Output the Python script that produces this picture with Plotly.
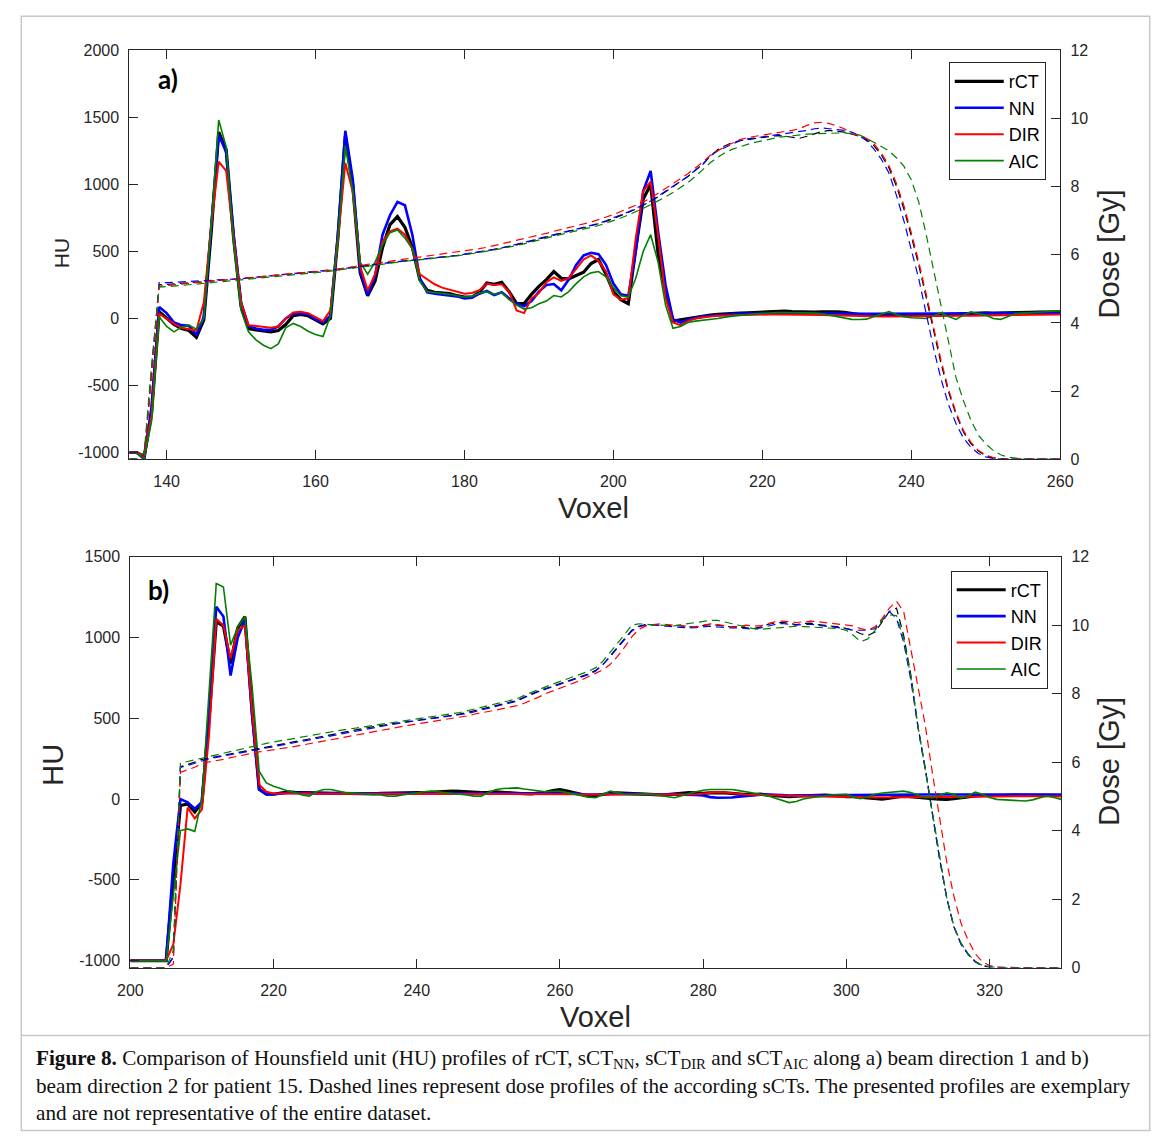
import plotly.graph_objects as go

W, H = 1171, 1147

# ---------------- Panel a) data (voxel 135..260) ----------------
voxel_a = list(range(135, 261))

hu_a_rct = [
    -1000, -1000, -1030, -700, 50, 5, -45, -75, -90, -140,
    -10, 650, 1390, 1260, 600, 90, -75, -85, -90, -100,
    -90, -45, 20, 30, 20, -10, -40, 0, 600, 1360,
    990, 340, 170, 280, 530, 700, 760, 680, 530, 290,
    210, 195, 190, 185, 170, 160, 160, 195, 265, 255,
    270, 200, 110, 110, 180, 240, 290, 350, 300, 295,
    320, 345, 410, 440, 330, 200, 140, 110, 520, 890,
    1000, 480, 200, -20, -10, 0, 10, 20, 25, 30,
    35, 40, 40, 42, 45, 48, 50, 55, 55, 52,
    50, 48, 48, 50, 52, 50, 45, 35, 28, 25,
    25, 25, 26, 25, 25, 25, 24, 25, 26, 28,
    30, 33, 36, 40, 42, 42, 40, 40, 42, 45,
    45, 45, 47, 48, 50, 50]
hu_a_nn = [
    -1000, -1000, -1050, -650, 85, 40, -30, -50, -55, -120,
    10, 700, 1370, 1240, 620, 120, -55, -75, -85, -85,
    -60, 0, 35, 40, 30, -5, -30, 20, 620, 1400,
    1040, 360, 175, 320, 625, 770, 870, 845, 625, 300,
    195, 185, 180, 175, 165, 150, 155, 185, 205, 175,
    195, 150, 110, 90, 130, 200, 250, 257, 210, 290,
    400, 470, 490, 480, 400, 260, 180, 170, 500, 950,
    1100, 650, 250, -5, -30, -10, 5, 15, 20, 25,
    30, 32, 35, 36, 37, 38, 38, 38, 38, 38,
    38, 38, 37, 37, 36, 36, 35, 35, 35, 35,
    35, 35, 35, 35, 35, 35, 35, 35, 35, 35,
    35, 35, 36, 36, 37, 37, 37, 38, 38, 38,
    38, 39, 39, 40, 40, 40]
hu_a_dir = [
    -1000, -1000, -1020, -720, 37, 0, -40, -70, -80, -90,
    120, 700, 1170, 1100, 600, 120, -50, -55, -60, -70,
    -60, 0, 45, 50, 40, 10, -20, 60, 580, 1160,
    945, 390, 210, 330, 575, 650, 670, 625, 520, 330,
    295, 255, 230, 215, 200, 185, 190, 210, 260, 250,
    255, 200, 60, 40, 150, 190, 270, 306, 280, 300,
    370, 440, 470, 430, 350, 180, 140, 150, 600, 950,
    1020, 620, 150, -30, -50, -20, 0, 10, 15, 20,
    22, 25, 27, 28, 30, 30, 30, 30, 30, 30,
    28, 28, 26, 25, 24, 22, 20, 18, 16, 15,
    15, 15, 15, 15, 15, 16, 16, 17, 18, 18,
    19, 20, 20, 21, 22, 22, 23, 24, 25, 25,
    26, 27, 28, 28, 29, 30]
hu_a_aic = [
    -1000, -1000, -1050, -760, 12, -60, -100, -65, -50, -80,
    0, 700, 1480, 1280, 560, 60, -100, -160, -200, -225,
    -190, -70, -37, -60, -95, -120, -135, 20, 600, 1290,
    950, 420, 330, 420, 550, 640, 660, 600, 520, 280,
    200, 195, 190, 180, 170, 160, 165, 190, 200, 180,
    195, 140, 100, 70, 80, 110, 130, 171, 160, 200,
    260, 310, 340, 350, 310, 230, 170, 160, 300, 500,
    625, 420, 100, -73, -60, -30, -20, -15, -10, 0,
    10, 20, 25, 30, 35, 40, 42, 45, 45, 45,
    45, 42, 40, 35, 25, 10, 0, -7, -8, -5,
    15, 35, 51, 30, 13, 5, 0, 0, 20, 42,
    15, -7, 25, 49, 35, 25, 0, -7, 15, 37,
    40, 42, 45, 50, 55, 56]

dose_a_rct = [
    0, 0, 0.1, 2.5, 5.12, 5.13, 5.15, 5.17, 5.19, 5.2,
    5.21, 5.23, 5.25, 5.26, 5.28, 5.3, 5.32, 5.34, 5.35, 5.37,
    5.39, 5.41, 5.43, 5.45, 5.47, 5.49, 5.51, 5.53, 5.56, 5.6,
    5.63, 5.66, 5.69, 5.72, 5.75, 5.77, 5.8, 5.82, 5.84, 5.86,
    5.88, 5.9, 5.92, 5.95, 5.98, 6.01, 6.04, 6.08, 6.12, 6.16,
    6.2, 6.24, 6.29, 6.35, 6.41, 6.47, 6.53, 6.59, 6.64, 6.69,
    6.74, 6.79, 6.84, 6.91, 6.98, 7.06, 7.15, 7.24, 7.34, 7.45,
    7.57, 7.7, 7.85, 8.0, 8.15, 8.3, 8.48, 8.66, 8.9, 9.08,
    9.2, 9.3, 9.35, 9.38, 9.4, 9.42, 9.45, 9.5, 9.48, 9.45,
    9.42, 9.48, 9.56, 9.62, 9.65, 9.63, 9.6, 9.55, 9.48, 9.38,
    9.2, 8.92, 8.55, 8.02, 7.35, 6.55, 5.7, 4.75, 3.75, 2.8,
    1.98, 1.32, 0.8, 0.46, 0.24, 0.1, 0.04, 0.01, 0, 0,
    0, 0, 0, 0, 0, 0]
dose_a_nn = [
    0, 0, 0.1, 2.6, 5.18, 5.18, 5.19, 5.2, 5.21, 5.22,
    5.23, 5.25, 5.26, 5.28, 5.29, 5.3, 5.32, 5.34, 5.36, 5.38,
    5.4, 5.42, 5.44, 5.46, 5.48, 5.5, 5.52, 5.54, 5.57, 5.6,
    5.64, 5.67, 5.7, 5.72, 5.74, 5.77, 5.8, 5.82, 5.84, 5.86,
    5.88, 5.9, 5.92, 5.95, 5.98, 6.02, 6.05, 6.08, 6.12, 6.16,
    6.2, 6.25, 6.3, 6.36, 6.42, 6.48, 6.54, 6.6, 6.65, 6.7,
    6.75, 6.8, 6.85, 6.92, 7.0, 7.08, 7.17, 7.26, 7.36, 7.46,
    7.58, 7.72, 7.87, 8.02, 8.17, 8.3, 8.48, 8.65, 8.9, 9.05,
    9.15, 9.25, 9.35, 9.4, 9.43, 9.45, 9.5, 9.53, 9.55, 9.57,
    9.6, 9.65, 9.7, 9.72, 9.7, 9.68, 9.65, 9.6, 9.5, 9.35,
    9.1, 8.8, 8.4, 7.75, 7.0, 6.15, 5.3, 4.28, 3.25, 2.35,
    1.6, 1.05, 0.62, 0.35, 0.17, 0.07, 0.02, 0, 0, 0,
    0, 0, 0, 0, 0, 0]
dose_a_dir = [
    0, 0, 0.1, 2.4, 5.08, 5.1, 5.12, 5.14, 5.16, 5.18,
    5.2, 5.22, 5.23, 5.25, 5.27, 5.29, 5.31, 5.33, 5.35, 5.37,
    5.39, 5.41, 5.43, 5.46, 5.48, 5.5, 5.52, 5.55, 5.58, 5.62,
    5.65, 5.68, 5.72, 5.75, 5.78, 5.81, 5.84, 5.87, 5.9, 5.93,
    5.96, 5.99, 6.02, 6.05, 6.08, 6.1, 6.14, 6.18, 6.22, 6.27,
    6.32, 6.36, 6.41, 6.47, 6.52, 6.58, 6.63, 6.69, 6.74, 6.79,
    6.84, 6.9, 6.96, 7.03, 7.1, 7.18, 7.27, 7.36, 7.45, 7.55,
    7.66, 7.8, 7.95, 8.1, 8.24, 8.38, 8.55, 8.72, 8.92, 9.06,
    9.18, 9.28, 9.38, 9.44, 9.48, 9.5, 9.55, 9.6, 9.62, 9.65,
    9.7, 9.8, 9.87, 9.89, 9.85, 9.78, 9.7, 9.55, 9.5, 9.42,
    9.25, 8.98, 8.62, 8.1, 7.45, 6.65, 5.8, 4.85, 3.85, 2.9,
    2.05, 1.38, 0.85, 0.5, 0.26, 0.12, 0.05, 0.01, 0, 0,
    0, 0, 0, 0, 0, 0]
dose_a_aic = [
    0, 0, 0.2, 2.8, 5.05, 5.06, 5.08, 5.1, 5.12, 5.14,
    5.16, 5.18, 5.2, 5.22, 5.24, 5.26, 5.28, 5.3, 5.32, 5.34,
    5.36, 5.38, 5.4, 5.42, 5.45, 5.47, 5.5, 5.52, 5.55, 5.58,
    5.62, 5.65, 5.68, 5.71, 5.74, 5.76, 5.79, 5.81, 5.83, 5.85,
    5.87, 5.89, 5.91, 5.94, 5.97, 6.0, 6.03, 6.06, 6.1, 6.14,
    6.18, 6.22, 6.27, 6.32, 6.38, 6.44, 6.5, 6.55, 6.6, 6.65,
    6.7, 6.75, 6.8, 6.86, 6.93, 7.0, 7.08, 7.17, 7.26, 7.36,
    7.47, 7.58, 7.7, 7.83, 7.97, 8.12, 8.3, 8.5, 8.7, 8.86,
    9.0, 9.1, 9.18, 9.24, 9.3, 9.35, 9.4, 9.44, 9.47, 9.5,
    9.52, 9.54, 9.55, 9.56, 9.57, 9.58, 9.58, 9.55, 9.52, 9.42,
    9.3, 9.18, 9.05, 8.85, 8.6, 8.2, 7.55, 6.6, 5.55, 4.5,
    3.4, 2.4, 1.72, 1.15, 0.71, 0.45, 0.26, 0.13, 0.06, 0.03,
    0.01, 0, 0, 0, 0, 0]

# ---------------- Panel b) data (voxel 200..330) ----------------
voxel_b = list(range(200, 331))

hu_b_rct = [
    -1000, -1000, -1000, -1000, -1000, -1000, -500, -40, -30, -80,
    -20, 500, 1100, 1070, 840, 1060, 1130, 550, 60, 30,
    30, 40, 45, 42, 40, 38, 36, 35, 35, 36,
    35, 33, 30, 30, 32, 35, 36, 36, 35, 36,
    38, 40, 42, 45, 48, 50, 48, 45, 42, 40,
    42, 45, 42, 38, 35, 33, 32, 35, 42, 52,
    58, 50, 38, 25, 18, 22, 30, 35, 38, 36,
    33, 30, 30, 28, 26, 28, 32, 38, 40, 38,
    35, 38, 40, 38, 35, 30, 28, 28, 30, 25,
    20, 15, 15, 18, 20, 22, 25, 25, 22, 18,
    15, 15, 12, 8, 2, 0, 5, 15, 20, 15,
    10, 5, 3, 0, -2, 2, 8, 15, 20, 22,
    22, 20, 22, 25, 25, 22, 22, 22, 22, 22,
    22]
hu_b_nn = [
    -1000, -1000, -1000, -1000, -1000, -1000, -400, 0, -20, -60,
    -20, 550, 1190, 1130, 765, 1000, 1110, 520, 60, 30,
    30, 35, 38, 38, 37, 36, 36, 35, 35, 35,
    35, 35, 35, 35, 35, 35, 35, 35, 34, 34,
    34, 34, 34, 34, 35, 35, 35, 35, 35, 35,
    35, 35, 35, 35, 35, 35, 35, 36, 37, 38,
    38, 37, 35, 30, 28, 28, 30, 32, 33, 33,
    32, 30, 28, 28, 28, 28, 28, 28, 28, 26,
    22, 12, 8, 8, 10, 15, 20, 25, 27, 28,
    28, 25, 22, 22, 24, 24, 25, 25, 25, 25,
    25, 25, 25, 25, 26, 26, 27, 28, 28, 28,
    28, 28, 28, 28, 28, 28, 28, 28, 28, 28,
    28, 28, 28, 28, 28, 28, 28, 28, 28, 28,
    28]
hu_b_dir = [
    -1000, -1000, -1000, -1000, -1000, -1000, -900, -530, -53, -120,
    -63, 400, 1116, 1075, 872, 1045, 1075, 550, 89, 45,
    35, 35, 38, 38, 36, 34, 33, 33, 32, 32,
    31, 30, 30, 30, 30, 30, 30, 30, 30, 30,
    30, 30, 30, 30, 30, 30, 30, 30, 30, 30,
    32, 33, 34, 34, 33, 32, 32, 32, 32, 32,
    32, 32, 30, 28, 28, 28, 28, 27, 26, 25,
    25, 24, 24, 25, 26, 27, 28, 28, 28, 30,
    35, 40, 42, 40, 35, 30, 28, 26, 25, 24,
    22, 20, 18, 16, 15, 14, 14, 14, 15, 16,
    16, 15, 14, 12, 10, 10, 11, 12, 13, 13,
    12, 12, 12, 12, 12, 12, 13, 14, 15, 16,
    17, 18, 18, 18, 18, 18, 18, 18, 17, 16,
    16]
hu_b_aic = [
    -1000, -1000, -1000, -1000, -1000, -1000, -600, -195, -185, -200,
    0, 700, 1334, 1313, 953, 1065, 1130, 700, 171, 100,
    79, 65, 50, 40, 25, 18, 45, 59, 59, 50,
    40, 38, 35, 30, 28, 25, 18, 18, 25, 32,
    40, 45, 49, 45, 40, 35, 30, 25, 18, 18,
    40, 58, 65, 68, 69, 62, 55, 50, 45, 48,
    49, 40, 30, 20, 12, 8, 30, 49, 40, 30,
    28, 30, 32, 28, 20, 12, 8, 20, 35, 45,
    55, 59, 60, 60, 59, 52, 45, 39, 30, 20,
    5, -10, -22, -15, 0, 8, 15, 20, 25, 28,
    30, 12, 2, 15, 30, 38, 42, 45, 49, 40,
    25, 10, 8, 25, 39, 30, 8, 20, 43, 30,
    10, -2, -5, -8, -10, -12, -5, 8, 20, 10,
    -2]

dose_b_rct = [
    0, 0, 0, 0, 0, 0, 0.3, 5.87, 5.93, 6.0,
    6.08, 6.12, 6.16, 6.2, 6.25, 6.3, 6.34, 6.38, 6.42, 6.46,
    6.5, 6.54, 6.58, 6.62, 6.66, 6.7, 6.74, 6.78, 6.82, 6.86,
    6.9, 6.93, 6.97, 7.0, 7.04, 7.07, 7.1, 7.14, 7.17, 7.2,
    7.24, 7.27, 7.3, 7.32, 7.34, 7.36, 7.4, 7.45, 7.5, 7.55,
    7.6, 7.65, 7.7, 7.75, 7.8, 7.9, 8.0, 8.08, 8.15, 8.22,
    8.28, 8.35, 8.42, 8.5, 8.58, 8.68, 8.85, 9.1, 9.35, 9.6,
    9.85, 9.97, 10.02, 10.02, 10.0, 9.98, 10.0, 9.97, 9.95, 9.96,
    10.0, 10.02, 10.0, 9.97, 9.95, 9.95, 9.92, 9.9, 9.95, 10.02,
    10.06, 10.08, 10.05, 10.02, 10.05, 10.06, 10.02, 10.0, 9.98, 9.95,
    9.9, 9.85, 9.75, 9.7, 9.8, 10.1, 10.4, 10.5, 9.7, 8.55,
    7.05, 5.85, 4.5, 3.2, 2.05, 1.2, 0.7, 0.4, 0.18, 0.06,
    0.02, 0, 0, 0, 0, 0, 0, 0, 0, 0,
    0]
dose_b_nn = [
    0, 0, 0, 0, 0, 0, 0.3, 5.85, 5.9, 5.97,
    6.05, 6.1, 6.14, 6.18, 6.22, 6.26, 6.3, 6.34, 6.38, 6.42,
    6.46, 6.5, 6.54, 6.58, 6.62, 6.66, 6.7, 6.74, 6.78, 6.82,
    6.86, 6.9, 6.94, 6.98, 7.02, 7.05, 7.08, 7.12, 7.15, 7.18,
    7.21, 7.24, 7.27, 7.3, 7.32, 7.35, 7.38, 7.42, 7.47, 7.52,
    7.57, 7.62, 7.67, 7.72, 7.78, 7.88, 7.98, 8.06, 8.13, 8.2,
    8.27, 8.33, 8.4, 8.48, 8.56, 8.66, 8.85, 9.08, 9.32, 9.58,
    9.82, 9.96, 10.0, 10.01, 9.98, 9.97, 9.95, 9.93, 9.92, 9.93,
    9.95, 9.97, 9.95, 9.93, 9.92, 9.92, 9.9, 9.88, 9.92, 9.98,
    10.02, 10.05, 10.02, 10.0, 10.02, 10.03, 10.0, 9.98, 9.96, 9.93,
    9.9, 9.85, 9.86, 9.86, 9.9, 10.15, 10.4, 10.2, 9.5, 8.4,
    7.0, 5.8, 4.45, 3.2, 2.05, 1.2, 0.68, 0.38, 0.16, 0.05,
    0.01, 0, 0, 0, 0, 0, 0, 0, 0, 0,
    0]
dose_b_dir = [
    0, 0, 0, 0, 0, 0, 0.1, 5.7, 5.78, 5.85,
    5.97, 6.0, 6.04, 6.08, 6.13, 6.18, 6.22, 6.26, 6.3, 6.33,
    6.35, 6.38, 6.42, 6.46, 6.5, 6.54, 6.58, 6.62, 6.66, 6.7,
    6.74, 6.78, 6.82, 6.86, 6.9, 6.94, 6.98, 7.02, 7.05, 7.08,
    7.12, 7.15, 7.18, 7.22, 7.25, 7.28, 7.31, 7.35, 7.4, 7.45,
    7.48, 7.52, 7.56, 7.6, 7.65, 7.72, 7.8, 7.9, 8.0, 8.08,
    8.15, 8.23, 8.3, 8.4, 8.5, 8.6, 8.7, 8.85, 9.08, 9.35,
    9.65, 9.88, 9.98, 10.02, 10.04, 10.02, 10.0, 9.97, 9.95, 9.95,
    10.0, 10.04, 10.02, 9.98, 9.95, 9.97, 10.0, 9.98, 9.98, 10.05,
    10.1, 10.12, 10.1, 10.08, 10.1, 10.12, 10.1, 10.08, 10.05, 10.02,
    10.0, 9.98, 9.9, 9.86, 9.95, 10.2, 10.5, 10.7, 10.4, 9.3,
    8.2, 7.1, 5.7, 4.35, 3.1, 2.1, 1.3, 0.8, 0.4, 0.17,
    0.06, 0.01, 0, 0, 0, 0, 0, 0, 0, 0,
    0]
dose_b_aic = [
    0, 0, 0, 0, 0, 0, 0.5, 5.97, 6.02, 6.07,
    6.12, 6.16, 6.2, 6.25, 6.3, 6.35, 6.4, 6.45, 6.5, 6.55,
    6.6, 6.63, 6.66, 6.7, 6.74, 6.77, 6.8, 6.84, 6.88, 6.92,
    6.95, 6.98, 7.02, 7.05, 7.08, 7.12, 7.15, 7.18, 7.21, 7.24,
    7.27, 7.3, 7.33, 7.36, 7.38, 7.41, 7.45, 7.5, 7.55, 7.6,
    7.64, 7.68, 7.73, 7.78, 7.85, 7.95, 8.04, 8.12, 8.2, 8.28,
    8.35, 8.42, 8.5, 8.58, 8.66, 8.76, 8.95, 9.2, 9.45, 9.72,
    10.0, 10.04, 10.03, 10.0, 10.0, 9.98, 9.98, 10.02, 10.05, 10.08,
    10.12, 10.14, 10.14, 10.1, 10.05, 10.0, 9.95, 9.9, 9.88, 9.9,
    9.92, 9.95, 9.97, 9.97, 9.96, 9.95, 9.95, 9.94, 9.93, 9.9,
    9.85, 9.7, 9.52, 9.6, 9.85, 10.15, 10.3, 10.28, 9.6, 8.5,
    7.05, 5.8, 4.45, 3.2, 2.05, 1.22, 0.72, 0.4, 0.18, 0.06,
    0.02, 0, 0, 0, 0, 0, 0, 0, 0, 0,
    0]

for arr in [hu_a_rct, hu_a_nn, hu_a_dir, hu_a_aic, dose_a_rct, dose_a_nn, dose_a_dir, dose_a_aic]:
    assert len(arr) == len(voxel_a), len(arr)
for arr in [hu_b_rct, hu_b_nn, hu_b_dir, hu_b_aic, dose_b_rct, dose_b_nn, dose_b_dir, dose_b_aic]:
    assert len(arr) == len(voxel_b), len(arr)

series_names = ["rCT", "NN", "DIR", "AIC"]
colors = ["#000000", "#0000ff", "#ff0000", "#008000"]
widths = [3.2, 2.6, 2.0, 1.6]

hu_ticks_a = [-1000, -500, 0, 500, 1000, 1500, 2000]
hu_ticks_b = [-1000, -500, 0, 500, 1000, 1500]
dose_ticks = [0, 2, 4, 6, 8, 10, 12]
vox_ticks_a = [140, 160, 180, 200, 220, 240, 260]
vox_ticks_b = [200, 220, 240, 260, 280, 300, 320]

SANS = "Liberation Sans, Arial, sans-serif"
AXC = "#262626"

fig = go.Figure()

hu_a = [hu_a_rct, hu_a_nn, hu_a_dir, hu_a_aic]
dose_a = [dose_a_rct, dose_a_nn, dose_a_dir, dose_a_aic]
hu_b = [hu_b_rct, hu_b_nn, hu_b_dir, hu_b_aic]
dose_b = [dose_b_rct, dose_b_nn, dose_b_dir, dose_b_aic]

for i in range(4):
    fig.add_trace(go.Scatter(x=voxel_a, y=hu_a[i], mode="lines", name=series_names[i],
                             line=dict(color=colors[i], width=widths[i]),
                             xaxis="x", yaxis="y", legend="legend"))
for i in range(4):
    fig.add_trace(go.Scatter(x=voxel_a, y=dose_a[i], mode="lines", showlegend=False,
                             line=dict(color=colors[i], width=1.2, dash="8px,5px"),
                             xaxis="x", yaxis="y2"))
for i in range(4):
    fig.add_trace(go.Scatter(x=voxel_b, y=hu_b[i], mode="lines", name=series_names[i],
                             line=dict(color=colors[i], width=widths[i]),
                             xaxis="x2", yaxis="y3", legend="legend2"))
for i in range(4):
    fig.add_trace(go.Scatter(x=voxel_b, y=dose_b[i], mode="lines", showlegend=False,
                             line=dict(color=colors[i], width=1.2, dash="8px,5px"),
                             xaxis="x2", yaxis="y4"))

# layout positions are given in window pixels, converted to paper fractions
def px_x(p):
    return p / W

def px_y(p):
    return 1 - p / H

tickfont = dict(family=SANS, size=16, color=AXC)
common = dict(showgrid=False, zeroline=False, showline=True, linecolor=AXC, linewidth=1,
              ticks="inside", ticklen=9, tickcolor=AXC, tickwidth=1, tickfont=tickfont)

fig.update_layout(
    width=W, height=H,
    margin=dict(l=0, r=0, t=0, b=0),
    paper_bgcolor="white", plot_bgcolor="white",
    xaxis=dict(domain=[px_x(119), px_x(1071)], range=[135, 260], anchor="y",
               tickvals=vox_ticks_a, ticktext=[str(v) for v in vox_ticks_a],
               mirror="ticks", ticklabelstandoff=8, **common),
    yaxis=dict(domain=[px_y(458), px_y(43)], range=[-1050, 2000], anchor="x",
               tickvals=hu_ticks_a, ticktext=[str(v) for v in hu_ticks_a],
               ticklabelstandoff=6, **common),
    yaxis2=dict(overlaying="y", side="right", anchor="x", range=[0, 12],
                tickvals=dose_ticks, ticktext=[str(v) for v in dose_ticks],
                ticklabelstandoff=6, **common),
    xaxis2=dict(domain=[px_x(120), px_x(1072)], range=[200, 330], anchor="y3",
                tickvals=vox_ticks_b, ticktext=[str(v) for v in vox_ticks_b],
                mirror="ticks", ticklabelstandoff=8, **common),
    yaxis3=dict(domain=[px_y(974), px_y(557)], range=[-1043, 1500], anchor="x2",
                tickvals=hu_ticks_b, ticktext=[str(v) for v in hu_ticks_b],
                ticklabelstandoff=6, **common),
    yaxis4=dict(overlaying="y3", side="right", anchor="x2", range=[0, 12],
                tickvals=dose_ticks, ticktext=[str(v) for v in dose_ticks],
                ticklabelstandoff=6, **common),
    legend=dict(x=px_x(957), y=px_y(55), xanchor="left", yanchor="top",
                bgcolor="white", bordercolor=AXC, borderwidth=1,
                font=dict(family=SANS, size=18, color="#000000"),
                itemwidth=49, tracegroupgap=0),
    legend2=dict(x=px_x(959), y=px_y(571), xanchor="left", yanchor="top",
                 bgcolor="white", bordercolor=AXC, borderwidth=1,
                 font=dict(family=SANS, size=18, color="#000000"),
                 itemwidth=49, tracegroupgap=0),
    showlegend=True,
)

ann = []
def add_text(text, x, y, size, angle=0, bold=False, family=SANS, xanchor="center", yanchor="middle",
             color=AXC, align="center"):
    ann.append(dict(text=("<b>%s</b>" % text) if bold else text, x=px_x(x), y=px_y(y),
                    xref="paper", yref="paper", showarrow=False, textangle=angle,
                    xanchor=xanchor, yanchor=yanchor, align=align,
                    font=dict(family=family, size=size, color=color)))

add_text("a)", 146, 72, 26, bold=True, family="Lato, Liberation Sans, sans-serif",
         xanchor="left", color="#000000")
add_text("b)", 136, 591, 26, bold=True, family="Lato, Liberation Sans, sans-serif",
         xanchor="left", color="#000000")
add_text("HU", 49, 249, 21, angle=-90)
add_text("HU", 41, 768, 29, angle=-90)
add_text("Dose [Gy]", 1121, 250, 29, angle=-90)
add_text("Dose [Gy]", 1121, 765, 29, angle=-90)
add_text("Voxel", 594, 508, 29)
add_text("Voxel", 596, 1024, 29)

caption = ("<b>Figure 8.</b> Comparison of Hounsfield unit (HU) profiles of rCT, sCT<sub>NN</sub>, "
           "sCT<sub>DIR</sub> and sCT<sub>AIC</sub> along a) beam direction 1 and b)<br>"
           "beam direction 2 for patient 15. Dashed lines represent dose profiles of the according sCTs. "
           "The presented profiles are exemplary<br>"
           "and are not representative of the entire dataset.")
add_text(caption, 21, 1052, 21.2, family="Liberation Serif, Times New Roman, serif",
         xanchor="left", yanchor="top", color="#111111", align="left")

fig.update_layout(annotations=ann)

fig.update_layout(shapes=[
    dict(type="rect", xref="paper", yref="paper", x0=px_x(8.5), x1=px_x(1162.5), y0=px_y(1139.5), y1=px_y(8.5),
         line=dict(color="#c8c8c8", width=1.5), fillcolor="rgba(0,0,0,0)", layer="below"),
    dict(type="line", xref="paper", yref="paper", x0=px_x(8), x1=px_x(1163), y0=px_y(1043), y1=px_y(1043),
         line=dict(color="#c8c8c8", width=1.5)),
])

# remove the default page margin so the figure fills the window exactly
post = ("document.body.style.margin='0';document.body.style.padding='0';"
        "document.documentElement.style.overflow='hidden';")
fig.write_html("out.html", post_script=post, config=dict(displayModeBar=False))
